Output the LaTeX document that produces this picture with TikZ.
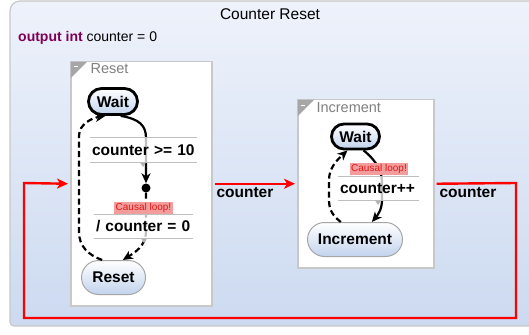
\documentclass[tikz,border=0pt]{standalone}
\usepackage{fontspec}
\setmainfont{Liberation Sans}
\usetikzlibrary{arrows.meta,shapes.misc}
\definecolor{bgtop}{HTML}{EEF2FB}
\definecolor{bgbot}{HTML}{CCDAF0}
\definecolor{boxgray}{HTML}{C8C8C8}
\definecolor{kw}{HTML}{7F0055}
\definecolor{stfill}{HTML}{C2D3EE}
\definecolor{causalbg}{HTML}{F29C9C}
\definecolor{causalfg}{HTML}{E01818}
\definecolor{lblgray}{HTML}{808080}
\tikzset{
  txt/.style={font=\fontsize{15.5}{18}\selectfont\bfseries},
  stwait/.style={rounded rectangle, draw=black, line width=2.8pt, top color=white, bottom color=stfill, inner sep=0pt, txt},
  stnorm/.style={rounded rectangle, draw=black!35, line width=1pt, top color=white, bottom color=stfill, inner sep=0pt, txt},
  regionbox/.style={draw=boxgray, line width=1.5pt, fill=white, anchor=north west, inner sep=0pt},
  regtri/.style={fill=black!35, draw=none},
  reglbl/.style={anchor=base west, text=lblgray, font=\fontsize{14.5}{17}\selectfont},
  trlbl/.style={txt, fill=white, fill opacity=0.75, text opacity=1, inner xsep=2pt, inner ysep=0pt, align=left, anchor=center},
  lblline/.style={draw=black!25, line width=1.2pt},
  lblmark/.style={fill=black!30, draw=none},
  causal/.style={font=\fontsize{10}{12}\selectfont, fill=causalbg, text=causalfg, inner xsep=1.5pt, inner ysep=1pt},
  tr/.style={draw=black, line width=2.2pt, -{Stealth[length=10pt,width=9pt,inset=3pt]}},
  trd/.style={tr, dash pattern=on 6pt off 3.5pt},
  redc/.style={draw=red, line width=2.4pt, -{Stealth[length=11pt,width=10pt,inset=3pt]}},
  redlbl/.style={anchor=base west, txt},
}
\begin{document}
\begin{tikzpicture}[x=1pt,y=-1pt]
\useasboundingbox (0,0) rectangle (529,334);
% outer background
\path[top color=bgtop, bottom color=bgbot, draw=boxgray, line width=1.2pt]
  (540,1) -- (20,1) arc[start angle=90, end angle=180, radius=10pt] -- (10,322)
  arc[start angle=180, end angle=270, radius=4pt] -- (540,326) -- cycle;
\node[anchor=base, font=\fontsize{15.5}{18}\selectfont] (title) at (270,20) {Counter Reset};
\node[anchor=base west, inner sep=0pt, font=\fontsize{14}{17}\selectfont] (decl) at (18,41.5) {\textbf{\color{kw}output int} counter = 0};

% regions
\node[regionbox, minimum width=141pt, minimum height=244pt] (rreg) at (70,61) {};
\fill[regtri] (70.8,61.8) -- (87,61.8) -- (70.8,78) -- cycle;
\draw[white, line width=1pt] (73.5,67) -- (77.5,67);
\node[reglbl] (rlbl) at (87,74) {Reset};

\node[regionbox, minimum width=136pt, minimum height=168pt] (ireg) at (297,99) {};
\fill[regtri] (297.8,99.8) -- (314,99.8) -- (297.8,116) -- cycle;
\draw[white, line width=1pt] (300.5,105) -- (304.5,105);
\node[reglbl] (ilbl) at (313,112) {Increment};

% states of Reset
\node[stwait, minimum width=49pt, minimum height=26pt] (w1) at (113,101.5) {Wait};
\node[stnorm, minimum width=64pt, minimum height=34pt] (r1) at (113.5,277.5) {Reset};
\node[circle, fill=black, inner sep=0pt, minimum size=9pt] (j) at (146,188) {};
\coordinate (c1) at (146,138);
\coordinate (c2) at (146,232);
\coordinate (c3) at (79,232);
\coordinate (c4) at (79,136);

\draw[tr] (w1.-62) .. controls (140,119) and (146,126) .. (c1) -- (j.north);
\draw[trd] (j.south) -- (c2) .. controls (146,246) and (134,253) .. (r1.62);
\draw[trd] (r1.123) .. controls (88,255) and (79,246) .. (c3) -- (c4) .. controls (79,124) and (92,118) .. (w1.-118);

\node[trlbl, text width=103pt, minimum height=24pt] (l1) at (143.5,150) {counter >= 10};
\draw[lblline] (l1.north west) -- (l1.north east);
\draw[lblline] (l1.south west) -- (l1.south east);
\fill[lblmark] (140,162.5) -- (146,162.5) -- (143,167) -- cycle;

\node[causal] (cl1) at (143.5,208) {Causal loop!};
\node[trlbl, text width=95pt, minimum height=23pt] (l2) at (143.5,226.5) {/ counter = 0};
\draw[lblline] (l2.north west) -- (l2.north east);
\draw[lblline] (l2.south west) -- (l2.south east);
\fill[lblmark] (141,238.5) -- (147,238.5) -- (144,243) -- cycle;

% states of Increment
\node[stwait, minimum width=48pt, minimum height=25pt] (w2) at (355.5,136.5) {Wait};
\node[stnorm, minimum width=95pt, minimum height=34pt] (i2) at (355,239.5) {Increment};
\coordinate (d1) at (382,182);
\coordinate (d2) at (382,200);
\coordinate (d3) at (329,200);
\coordinate (d4) at (329,180);

\draw[tr] (w2.-60) .. controls (372,157) and (382,168) .. (d1) -- (d2) .. controls (382,210) and (377,216) .. (i2.46);
\draw[trd] (i2.129) .. controls (333,216) and (329,210) .. (d3) -- (d4) .. controls (329,168) and (337,160) .. (w2.-120);

\node[causal] (cl2) at (379,169) {Causal loop!};
\node[trlbl, text width=77pt, minimum height=23pt] (l3) at (378.5,188.5) {counter++};
\draw[lblline] (l3.north west) -- (l3.north east);
\draw[lblline] (l3.south west) -- (l3.south east);
\fill[lblmark] (375,200.5) -- (381,200.5) -- (378,205) -- cycle;

% red connectors
\coordinate (p1) at (516,183);
\coordinate (p2) at (516,318);
\coordinate (p3) at (24,318);
\coordinate (p4) at (24,183);
\draw[redc] ([xshift=2pt]rreg.east) -- ([xshift=-2pt]ireg.west);
\draw[redc] ([xshift=2pt]ireg.east) -- (p1) -- (p2) -- (p3) -- (p4) -- ([xshift=-2pt]rreg.west);
\node[redlbl] (rl1) at (213,197) {counter};
\node[redlbl] (rl2) at (436,197) {counter};
\end{tikzpicture}
\end{document}
